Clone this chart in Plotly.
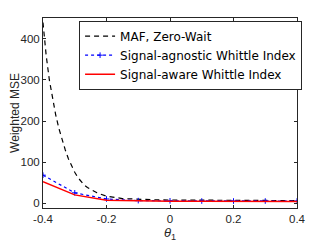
import plotly.graph_objects as go

theta_maf = [-0.4, -0.39, -0.38, -0.37, -0.36, -0.35, -0.34, -0.33, -0.32, -0.31, -0.3,
             -0.29, -0.28, -0.27, -0.26, -0.25, -0.24, -0.23, -0.22, -0.21, -0.2,
             -0.15, -0.1, -0.05, 0.0, 0.1, 0.2, 0.3, 0.4]
mse_maf = [440, 360, 300, 255, 215, 182, 155, 130, 108, 90, 75,
           62, 52, 44, 38, 33, 29, 25, 22, 19, 17,
           11, 9, 8, 7.5, 7, 6.5, 6.2, 6]

theta = [-0.4, -0.3, -0.2, -0.1, 0.0, 0.1, 0.2, 0.3, 0.4]
mse_agnostic = [68, 25, 10, 6, 5.5, 5, 5, 5, 5]
mse_aware = [52, 20, 7, 5, 4.5, 4.2, 4, 4, 4]

xticks = [-0.4, -0.2, 0, 0.2, 0.4]
xtick_text = ["-0.4", "-0.2", "0", "0.2", "0.4"]
yticks = [0, 100, 200, 300, 400]

FONT = "Liberation Sans, Arial, Helvetica"
LEGEND_FONT = "DejaVu Sans, Liberation Sans, Arial"

fig = go.Figure()
fig.add_trace(go.Scatter(x=theta_maf, y=mse_maf, mode="lines", name="MAF, Zero-Wait",
                         line=dict(color="black", dash="5px,4px", width=1.2)))
fig.add_trace(go.Scatter(x=theta, y=mse_agnostic, mode="lines+markers",
                         name="Signal-agnostic Whittle Index",
                         line=dict(color="blue", dash="dot", width=1.2),
                         marker=dict(symbol="cross-thin", size=4, line=dict(color="blue", width=1))))
fig.add_trace(go.Scatter(x=theta, y=mse_aware, mode="lines", name="Signal-aware Whittle Index",
                         line=dict(color="red", width=1.5)))

axis_common = dict(showline=True, mirror="ticks", linecolor="#262626", linewidth=1,
                   ticks="inside", ticklen=3, tickcolor="#262626", showgrid=False,
                   zeroline=False, automargin=False,
                   tickfont=dict(family=FONT, size=11.5, color="#262626"))

# the page body adds an 8px offset; the figure size/margins compensate for it
fig.update_layout(
    width=319, height=237,
    margin=dict(l=35, r=30, t=10, b=37),
    paper_bgcolor="white", plot_bgcolor="white",
    showlegend=True,
    legend=dict(x=0.142, y=0.986, xanchor="left", yanchor="top",
                bgcolor="white", bordercolor="#262626", borderwidth=1,
                font=dict(family=LEGEND_FONT, size=12, color="black"),
                itemwidth=30, tracegroupgap=0),
    xaxis=dict(range=[-0.4, 0.4], tickvals=xticks, ticktext=xtick_text,
               title=dict(text="<i>θ</i><sub>1</sub>", standoff=2,
                          font=dict(family=FONT, size=13, color="#262626")),
               **axis_common),
    yaxis=dict(range=[-12, 451], tickvals=yticks,
               title=dict(text="Weighted MSE", standoff=4,
                          font=dict(family=FONT, size=12, color="#262626")),
               **axis_common),
)

fig.write_html("out.html")
